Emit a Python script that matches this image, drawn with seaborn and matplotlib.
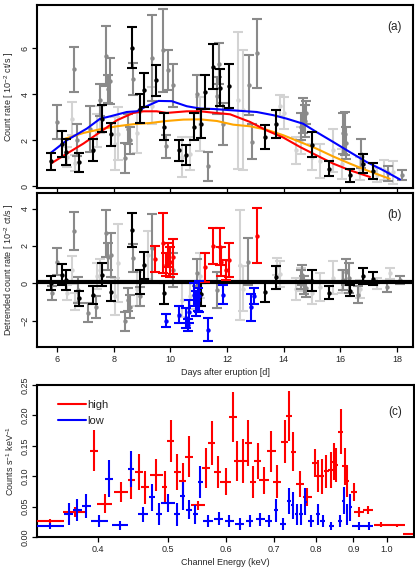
import numpy as np
import pandas as pd
import matplotlib
matplotlib.use("Agg")
import matplotlib.pyplot as plt
from matplotlib.lines import Line2D
import seaborn as sns

sns.set_theme(style="ticks")
plt.rcParams["font.family"] = ["Liberation Sans", "DejaVu Sans"]
plt.rcParams["mathtext.fontset"] = "custom"
plt.rcParams["mathtext.rm"] = "Liberation Sans"
plt.rcParams["mathtext.it"] = "Liberation Sans:italic"

# ---- panel (a): light curve -------------------------------------------
blk_day  = [5.78, 6.16, 6.31, 6.78, 7.25, 7.59, 7.92, 8.64, 8.91, 9.08, 9.49, 9.76, 10.31, 10.56,
            10.84, 11.09, 11.22, 11.49, 11.75, 12.08, 13.35, 13.73, 15.01, 15.61, 16.34, 16.79, 17.14]
blk_rate = [1.09, 1.83, 1.50, 1.04, 1.59, 2.94, 2.26, 6.01, 3.38, 4.20, 4.60, 2.60, 1.57, 1.35,
            2.60, 2.72, 4.10, 5.19, 4.29, 4.36, 2.13, 2.70, 1.81, 0.77, 0.48, 0.99, 0.67]
blk_err  = [0.38, 0.56, 0.55, 0.41, 0.47, 0.60, 0.51, 0.89, 0.64, 0.74, 0.69, 0.57, 0.46, 0.43,
            0.58, 0.62, 0.72, 0.98, 0.79, 0.94, 0.52, 0.61, 0.55, 0.33, 0.29, 0.42, 0.33]

dg_day  = [5.99, 6.58, 6.70, 7.16, 7.52, 7.71, 7.78, 7.87, 8.40, 8.52, 8.58, 8.67, 9.34, 9.75,
           9.85, 9.92, 10.11, 10.93, 11.34, 11.64, 11.70, 11.85, 12.79, 12.87, 13.07, 14.60,
           14.70, 14.75, 14.80, 16.10, 16.17, 16.22, 16.75, 17.68, 18.17]
dg_rate = [2.80, 5.08, 2.00, 2.50, 3.74, 5.68, 4.23, 4.58, 1.23, 2.51, 2.00, 4.65, 5.58, 5.91,
           1.74, 5.04, 4.39, 4.00, 0.87, 3.93, 5.33, 2.70, 4.39, 1.93, 5.77, 2.60,
           3.09, 2.85, 3.20, 2.30, 2.29, 1.90, 1.42, 0.57, 0.48]
dg_err  = [0.75, 0.98, 0.70, 1.00, 0.69, 1.30, 0.60, 1.01, 0.65, 0.65, 0.58, 0.70, 1.87, 1.81,
           0.50, 0.87, 0.94, 0.83, 0.62, 0.80, 0.90, 0.90, 1.30, 0.76, 1.50, 0.60,
           0.76, 0.70, 0.50, 0.90, 0.94, 0.70, 0.62, 0.33, 0.22]

lg_day  = [6.34, 6.52, 6.62, 7.40, 7.52, 8.05, 8.16, 8.81, 9.34, 10.40, 10.69, 11.05, 12.40,
           12.55, 13.87, 14.00, 14.45, 14.63, 15.00, 15.30, 15.75, 16.05, 16.70, 17.30, 17.55, 17.85]
lg_rate = [1.28, 2.94, 1.00, 2.43, 2.90, 1.86, 2.29, 2.30, 3.50, 1.28, 1.42, 2.70, 3.74,
           3.30, 3.50, 3.20, 1.57, 2.00, 1.28, 1.10, 1.57, 0.99, 0.77, 0.48, 0.70, 0.62]
lg_err  = [0.43, 0.72, 0.35, 0.72, 0.58, 1.16, 1.16, 0.87, 0.80, 0.87, 0.72, 1.16, 2.97,
           2.60, 0.45, 0.70, 0.58, 0.58, 0.58, 0.72, 0.94, 0.65, 0.50, 0.30, 0.43, 0.50]

blue_day  = [5.78, 6.34, 7.05, 7.52, 7.87, 8.46, 8.81, 9.16, 9.58, 10.05, 10.58, 11.05, 11.52,
             12.22, 13.05, 13.64, 14.11, 14.69, 15.16, 15.75, 16.34, 16.93, 17.52, 18.11]
blue_rate = [1.46, 2.00, 2.51, 2.94, 3.04, 3.23, 3.26, 3.48, 3.71, 3.70, 3.48, 3.38, 3.36,
             3.30, 3.23, 3.09, 2.94, 2.72, 2.36, 1.93, 1.49, 1.06, 0.70, 0.30]
red_day   = [5.78, 6.34, 6.93, 7.52, 8.11, 8.69, 9.05, 9.52, 9.87, 10.58, 11.05, 11.52, 12.11,
             12.81, 13.40, 13.99, 14.58, 15.16, 15.75, 16.34, 17.05]
red_rate  = [0.99, 1.42, 1.86, 2.36, 2.87, 3.19, 3.26, 3.26, 3.19, 3.26, 3.26, 3.20, 3.13,
             2.80, 2.43, 2.12, 1.71, 1.35, 0.99, 0.70, 0.41]
orng_day  = [6.28, 6.93, 7.52, 8.11, 8.69, 9.28, 9.87, 10.46, 11.05, 11.64, 12.22, 12.81, 13.40,
             13.99, 14.58, 15.16, 15.75, 16.34, 16.93, 17.75]
orng_rate = [2.07, 2.32, 2.48, 2.61, 2.70, 2.75, 2.84, 2.90, 2.91, 2.84, 2.68, 2.61, 2.46,
             2.22, 1.93, 1.64, 1.30, 0.99, 0.70, 0.33]

# ---- panel (b): detrended ---------------------------------------------
bb_day = [5.78, 6.16, 6.31, 6.78, 7.25, 7.59, 7.92, 8.64, 8.91, 9.08, 9.76, 11.09,
          13.35, 13.73, 15.01, 15.61, 16.34, 16.79, 17.14]
bb_val = [0.00, 0.46, 0.18, -0.80, -0.64, 0.46, -0.45, 2.85, 0.05, 0.96, -0.55, -0.59,
          -0.46, 0.32, 0.14, -0.50, -0.39, 0.39, 0.25]
bb_err = [0.38, 0.56, 0.55, 0.41, 0.47, 0.60, 0.51, 0.89, 0.64, 0.74, 0.57, 0.62,
          0.52, 0.61, 0.55, 0.33, 0.29, 0.42, 0.33]

bdg_day = [5.81, 5.99, 6.61, 6.75, 7.10, 7.39, 7.71, 7.78, 7.92, 8.40, 8.52, 8.58, 8.67, 8.93,
           9.34, 10.11, 10.93, 11.64, 12.75, 14.60, 14.65, 14.72, 14.80, 16.10, 16.22, 16.30,
           16.64, 17.64, 18.11]
bdg_val = [-0.53, 1.16, 2.82, -0.36, -1.57, -1.28, 2.67, 1.43, 1.52, -2.05, -0.89, -1.25, 1.34,
           -0.71, 1.87, 0.71, 0.57, -0.36, 1.16, 0.20, 0.45, -0.09, -0.27, 0.18, 0.62, 0.30,
           -0.62, -0.18, 0.18]
bdg_err = [0.36, 0.74, 1.02, 0.71, 0.53, 0.58, 1.25, 0.71, 1.16, 0.53, 0.62, 0.62, 0.75, 0.53,
           1.83, 0.89, 0.71, 0.98, 1.25, 0.50, 0.55, 0.50, 0.45, 0.53, 0.70, 0.80,
           0.45, 0.30, 0.20]

blg_day = [6.34, 6.52, 6.62, 7.40, 7.52, 8.05, 8.16, 8.81, 9.22, 10.40, 10.69, 11.05, 12.46,
           12.58, 13.75, 13.87, 14.45, 14.63, 15.00, 15.30, 15.75, 16.05, 16.70, 17.30, 17.75]
blg_val = [-0.50, 0.71, -1.00, 0.40, 0.71, -0.70, 1.07, -0.30, 1.52, -0.90, -0.70, 0.40, 0.98,
           -0.30, 0.90, 0.50, -0.30, 0.20, -0.50, -0.20, 0.30, 0.10, -0.30, 0.00, 0.53]
blg_err = [0.40, 0.75, 0.45, 0.70, 0.60, 1.00, 2.10, 0.90, 1.30, 0.90, 0.70, 1.20, 2.95,
           1.20, 0.45, 0.70, 0.60, 0.60, 0.60, 0.75, 0.90, 0.60, 0.50, 0.30, 0.30]

hi_day = [9.46, 9.75, 9.83, 9.93, 10.00, 10.08, 11.22, 11.49, 11.75, 11.78, 11.96, 12.08, 13.05]
hi_val = [1.30, 2.17, 1.00, 1.51, 1.16, 1.42, 0.86, 2.01, 1.96, 1.16, 0.71, 1.25, 2.55]
hi_err = [0.70, 1.62, 0.60, 0.65, 0.80, 0.93, 0.78, 0.97, 1.00, 0.78, 0.55, 0.93, 1.49]

lo_day = [9.85, 10.31, 10.56, 10.61, 10.67, 10.85, 10.90, 10.96, 11.02, 11.34, 11.85, 12.85, 12.97]
lo_val = [-2.00, -1.69, -1.87, -2.23, -1.52, -0.62, -1.07, -0.89, -0.71, -2.50, -0.62, -1.30, -0.68]
lo_err = [0.37, 0.45, 0.53, 0.31, 0.62, 0.62, 0.67, 0.62, 0.85, 0.62, 0.51, 0.71, 0.45]

trend_level = 0.08

# ---- panel (c): spectra -----------------------------------------------
high_E    = [0.344, 0.372, 0.395, 0.409, 0.431, 0.445, 0.456, 0.465, 0.482, 0.495, 0.504, 0.515,
             0.524, 0.534, 0.550, 0.564, 0.574, 0.585, 0.600, 0.615, 0.623, 0.635, 0.645, 0.655,
             0.664, 0.678, 0.694, 0.707, 0.724, 0.734, 0.744, 0.760, 0.778, 0.796, 0.805, 0.815,
             0.826, 0.837, 0.846, 0.852, 0.864, 0.875, 0.882, 0.901, 0.917, 0.942, 0.983, 1.033, 1.071]
high_Eerr = [0.015, 0.014, 0.005, 0.010, 0.010, 0.005, 0.006, 0.006, 0.010, 0.004, 0.006, 0.006,
             0.006, 0.007, 0.013, 0.007, 0.007, 0.006, 0.011, 0.008, 0.007, 0.007, 0.007, 0.006,
             0.007, 0.011, 0.009, 0.009, 0.008, 0.007, 0.006, 0.010, 0.011, 0.007, 0.006, 0.006,
             0.006, 0.006, 0.006, 0.006, 0.006, 0.006, 0.006, 0.009, 0.014, 0.015, 0.023, 0.027, 0.017]
high_cts  = [0.026, 0.041, 0.142, 0.055, 0.074, 0.093, 0.107, 0.082, 0.102, 0.082, 0.158, 0.107,
             0.092, 0.132, 0.052, 0.113, 0.154, 0.107, 0.091, 0.198, 0.125, 0.125, 0.155, 0.090,
             0.125, 0.093, 0.141, 0.091, 0.157, 0.199, 0.140, 0.087, 0.066, 0.121, 0.100, 0.100,
             0.108, 0.110, 0.124, 0.118, 0.173, 0.116, 0.092, 0.074, 0.041, 0.044, 0.020, 0.019, 0.005]
high_err  = [0.004, 0.008, 0.034, 0.015, 0.016, 0.030, 0.030, 0.027, 0.027, 0.026, 0.035, 0.030,
             0.030, 0.034, 0.007, 0.033, 0.036, 0.027, 0.022, 0.041, 0.033, 0.036, 0.038, 0.026,
             0.030, 0.022, 0.034, 0.027, 0.036, 0.041, 0.032, 0.022, 0.015, 0.023, 0.026, 0.029,
             0.027, 0.030, 0.030, 0.028, 0.037, 0.030, 0.026, 0.015, 0.008, 0.007, 0.004, 0.003, 0.002]

low_E    = [0.344, 0.365, 0.375, 0.386, 0.402, 0.415, 0.430, 0.445, 0.462, 0.475, 0.486, 0.500,
            0.514, 0.524, 0.535, 0.545, 0.554, 0.567, 0.587, 0.607, 0.628, 0.648, 0.670, 0.688,
            0.704, 0.719, 0.734, 0.742, 0.752, 0.762, 0.773, 0.786, 0.804, 0.816, 0.839, 0.862,
            0.873, 0.882, 0.891, 0.915, 0.947]
low_Eerr = [0.015, 0.005, 0.005, 0.005, 0.011, 0.005, 0.011, 0.004, 0.007, 0.004, 0.005, 0.011,
            0.005, 0.004, 0.005, 0.004, 0.005, 0.009, 0.009, 0.009, 0.009, 0.007, 0.009, 0.007,
            0.005, 0.007, 0.004, 0.004, 0.004, 0.004, 0.004, 0.007, 0.005, 0.006, 0.006, 0.006,
            0.004, 0.004, 0.004, 0.019, 0.012]
low_cts  = [0.018, 0.038, 0.044, 0.051, 0.026, 0.096, 0.019, 0.112, 0.037, 0.065, 0.038, 0.056,
            0.037, 0.067, 0.045, 0.037, 0.090, 0.026, 0.030, 0.026, 0.022, 0.026, 0.029, 0.026,
            0.044, 0.022, 0.059, 0.052, 0.037, 0.037, 0.058, 0.026, 0.037, 0.026, 0.018, 0.026,
            0.060, 0.037, 0.049, 0.018, 0.018]
low_err  = [0.005, 0.018, 0.018, 0.020, 0.010, 0.030, 0.008, 0.029, 0.012, 0.022, 0.018, 0.015,
            0.019, 0.023, 0.016, 0.016, 0.026, 0.010, 0.011, 0.010, 0.010, 0.010, 0.011, 0.010,
            0.019, 0.010, 0.022, 0.022, 0.018, 0.018, 0.022, 0.010, 0.018, 0.010, 0.007, 0.010,
            0.022, 0.018, 0.022, 0.007, 0.007]

LGREY, DGREY = "#d3d3d3", "#8a8a8a"
TICK_KW = dict(direction="out", length=3.5, width=0.9, labelsize=6.5, pad=2, color="black")


def style_axes(ax):
    for s in ax.spines.values():
        s.set_linewidth(1.5)
        s.set_color("black")
    ax.tick_params(axis="both", **TICK_KW)
    ax.tick_params(axis="y", labelrotation=90)
    for lab in ax.get_yticklabels():
        lab.set_va("center")


def points(ax, x, y, e, color, z):
    ax.errorbar(x, y, yerr=e, fmt="none", ecolor=color, elinewidth=1.5,
                capsize=3.4, capthick=1.5, zorder=z)
    sns.scatterplot(x=x, y=y, color=color, s=10, linewidth=0, ax=ax,
                    zorder=z + 0.1, legend=False)


def panel_a(ax):
    points(ax, lg_day, lg_rate, lg_err, LGREY, 1)
    points(ax, dg_day, dg_rate, dg_err, DGREY, 2)
    sns.lineplot(x=orng_day, y=orng_rate, color="orange", lw=1.5, ax=ax, zorder=3)
    sns.lineplot(x=red_day, y=red_rate, color="red", lw=1.5, ax=ax, zorder=3)
    sns.lineplot(x=blue_day, y=blue_rate, color="blue", lw=1.5, ax=ax, zorder=3)
    points(ax, blk_day, blk_rate, blk_err, "black", 4)
    ax.set_xlim(5.29, 18.57)
    ax.set_ylim(-0.07, 7.87)
    ax.set_xticks([6, 8, 10, 12, 14, 16, 18])
    ax.set_xticklabels([])
    ax.set_yticks([0, 2, 4, 6])
    ax.set_ylabel(r"Count rate [ $10^{-2}$ ct/s ]", fontsize=6.5, labelpad=3)
    ax.set_xlabel("")
    ax.text(0.952, 0.88, "(a)", transform=ax.transAxes, fontsize=8.5, ha="center", va="center")
    style_axes(ax)


def panel_b(ax):
    points(ax, blg_day, blg_val, blg_err, LGREY, 1)
    points(ax, bdg_day, bdg_val, bdg_err, DGREY, 2)
    ax.axhline(trend_level, color="black", lw=3, zorder=3)
    points(ax, bb_day, bb_val, bb_err, "black", 4)
    points(ax, hi_day, hi_val, hi_err, "red", 5)
    points(ax, lo_day, lo_val, lo_err, "blue", 5)
    ax.set_xlim(5.29, 18.57)
    ax.set_ylim(-3.42, 4.83)
    ax.set_xticks([6, 8, 10, 12, 14, 16, 18])
    ax.set_yticks([-2, 0, 2, 4])
    ax.set_xlabel("Days after eruption [d]", fontsize=6.5, labelpad=3)
    ax.set_ylabel(r"Detrended count rate [ $10^{-2}$ ct/s ]", fontsize=6.5, labelpad=3)
    ax.text(0.952, 0.857, "(b)", transform=ax.transAxes, fontsize=8.5, ha="center", va="center")
    style_axes(ax)


def panel_c(ax):
    ax.errorbar(high_E, high_cts, xerr=high_Eerr, yerr=high_err, fmt="none",
                ecolor="red", elinewidth=1.5, capsize=0, zorder=3)
    ax.errorbar(low_E, low_cts, xerr=low_Eerr, yerr=low_err, fmt="none",
                ecolor="blue", elinewidth=1.5, capsize=0, zorder=4)
    ax.set_xscale("log")
    ax.set_xlim(0.330, 1.09)
    ax.set_ylim(0, 0.25)
    ticks = [0.4, 0.5, 0.6, 0.7, 0.8, 0.9, 1.0]
    ax.set_xticks(ticks)
    ax.set_xticklabels([f"{t:.1f}" for t in ticks])
    ax.xaxis.set_minor_locator(matplotlib.ticker.NullLocator())
    ax.set_yticks([0, 0.05, 0.10, 0.15, 0.20, 0.25])
    ax.set_yticklabels(["0.00", "0.05", "0.10", "0.15", "0.20", "0.25"])
    ax.set_xlabel("Channel Energy (keV)", fontsize=6.5, labelpad=3)
    ax.set_ylabel(r"Counts s$^{-1}$ keV$^{-1}$", fontsize=6.5, labelpad=3)
    handles = [Line2D([], [], color="red", lw=1.5), Line2D([], [], color="blue", lw=1.5)]
    ax.legend(handles, ["high", "low"], loc="upper left", bbox_to_anchor=(0.03, 0.97),
              frameon=False, fontsize=8, handlelength=2.5, handletextpad=0.1, labelspacing=0.6)
    ax.text(0.95, 0.82, "(c)", transform=ax.transAxes, fontsize=8.5, ha="center", va="center")
    style_axes(ax)


if __name__ == "__main__":
    fig = plt.figure(figsize=(4.15, 5.68), dpi=100)
    ax_a = fig.add_axes([0.0892, 0.669, 0.906, 0.322])
    ax_b = fig.add_axes([0.0892, 0.389, 0.906, 0.271])
    ax_c = fig.add_axes([0.0892, 0.0546, 0.908, 0.2676])
    panel_a(ax_a)
    panel_b(ax_b)
    panel_c(ax_c)
    fig.savefig("out.png", dpi=100, facecolor="white")
    plt.close(fig)
